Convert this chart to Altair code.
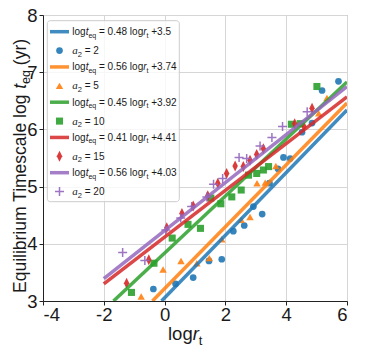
import altair as alt
import pandas as pd

# ---------------- data ----------------
blue_x = [-0.37, 0.36, 0.94, 1.46, 1.88, 2.26, 2.62, 2.92, 3.21, 3.45, 3.73, 3.91, 4.13, 4.52, 4.85, 5.18, 5.72]
blue_y = [3.21, 3.30, 3.41, 3.70, 3.73, 4.22, 4.32, 4.65, 4.52, 5.06, 5.31, 5.51, 5.49, 5.95, 6.11, 6.68, 6.84]
orange_x = [-0.77, -0.05, 0.54, 1.06, 1.47, 1.88, 2.52, 2.81, 3.04, 3.31, 3.66, 5.07, 5.34]
orange_y = [3.08, 3.55, 3.70, 3.66, 3.75, 4.08, 4.42, 4.47, 5.06, 5.07, 5.36, 6.28, 6.55]
green_x = [-1.09, -0.35, 0.25, 0.77, 1.18, 1.52, 1.85, 2.21, 2.52, 2.76, 3.03, 3.25, 3.42, 4.17, 4.46, 5.01]
green_y = [3.15, 3.66, 4.10, 4.34, 4.27, 4.80, 4.70, 4.82, 4.94, 5.20, 5.23, 5.29, 5.35, 6.09, 6.10, 6.75]
red_x = [-1.25, -0.52, 0.07, 0.57, 0.94, 1.42, 1.75, 2.04, 2.32, 2.59, 2.81, 3.03, 3.25, 4.28, 4.58, 4.85]
red_y = [3.31, 3.72, 4.28, 4.53, 4.66, 4.84, 5.06, 5.23, 5.36, 5.35, 5.46, 5.56, 5.66, 6.10, 6.05, 6.37]
purple_x = [-1.38, -0.65, 0.04, 0.53, 0.89, 1.39, 1.61, 1.91, 2.45, 2.70, 3.14, 3.53, 3.88, 4.69]
purple_y = [3.85, 3.71, 4.24, 4.45, 4.65, 4.82, 5.04, 5.14, 5.51, 5.49, 5.71, 5.86, 6.05, 6.31]

# fitted lines as drawn (end points)
line_x0 = [-0.10, -0.40, -1.68, -2.00, -2.00]
line_y0 = [3.00, 3.00, 3.00, 3.30, 3.39]
line_x1 = [6.0, 6.0, 6.0, 6.0, 6.0]
line_y1 = [6.34, 6.46, 6.83, 6.57, 6.75]

fit_slope = ["0.48", "0.56", "0.45", "0.41", "0.56"]
fit_icpt = ["3.5", "3.74", "3.92", "4.41", "4.03"]
a2_values = ["2", "5", "10", "15", "20"]

x_ticks = [-4, -2, 0, 2, 4, 6]
y_ticks = [3, 4, 5, 6, 7, 8]

colors = ["#1f77b4", "#ff7f0e", "#2ca02c", "#d62728", "#9467bd"]
xs_all = [blue_x, orange_x, green_x, red_x, purple_x]
ys_all = [blue_y, orange_y, green_y, red_y, purple_y]
marks = [
    dict(shape="circle", size=45, filled=True),
    dict(shape="triangle-up", size=55, filled=True),
    dict(shape="square", size=50, filled=True),
    dict(shape="M0,-1L0.5,0L0,1L-0.5,0Z", size=120, filled=True),
    dict(shape="M-1,0H1M0,-1V1", size=81, filled=False, strokeWidth=1.5),
]

FONT = "Liberation Sans"
SERIF = "Liberation Serif"
TXT = "#1a1a1a"

ARIAL = {' ': 278, '=': 584, '+': 584, '.': 278, '(': 333, ')': 333, 'E': 667, 'T': 611,
         'a': 556, 'b': 556, 'c': 500, 'e': 556, 'g': 556, 'i': 222, 'l': 222, 'm': 833,
         'o': 556, 'q': 556, 'r': 333, 's': 500, 't': 278, 'u': 556, 'y': 500}


def tw(s, fs):
    return sum(ARIAL.get(c, 556) for c in s) * fs / 1000.0


xs = alt.Scale(domain=[-4, 6], nice=False, zero=False)
ys = alt.Scale(domain=[3, 8], nice=False, zero=False)

one = pd.DataFrame({"k": [0]})
layers = []

# scatter layers (below lines, as in matplotlib)
for i in range(5):
    df = pd.DataFrame({"x": xs_all[i], "y": ys_all[i]})
    m = marks[i]
    kw = dict(shape=m["shape"], size=m["size"], filled=m["filled"], color=colors[i], opacity=0.9)
    if "strokeWidth" in m:
        kw["strokeWidth"] = m["strokeWidth"]
    if i == 0:
        xenc = alt.X("x:Q", scale=xs, axis=alt.Axis(
            values=x_ticks, title=None, grid=True, gridColor="#d6d6d6", gridWidth=1,
            labelFont=FONT, labelFontSize=18.5, labelColor=TXT, tickSize=4, tickColor="#222",
            labelPadding=0, domainColor="#222", labelExpr="replace(datum.label, '\u2212', '-')"))
        yenc = alt.Y("y:Q", scale=ys, axis=alt.Axis(
            values=y_ticks, title=None, grid=True, gridColor="#d6d6d6", gridWidth=1,
            labelFont=FONT, labelFontSize=18.5, labelColor=TXT, tickSize=4, tickColor="#222",
            labelPadding=2, domainColor="#222"))
    else:
        xenc = alt.X("x:Q", scale=xs, axis=None)
        yenc = alt.Y("y:Q", scale=ys, axis=None)
    layers.append(alt.Chart(df).mark_point(**kw).encode(x=xenc, y=yenc))

# fitted lines on top
for i in range(5):
    df = pd.DataFrame({"x": [line_x0[i], line_x1[i]], "y": [line_y0[i], line_y1[i]]})
    layers.append(alt.Chart(df).mark_line(color=colors[i], strokeWidth=3.5, opacity=0.85, clip=True)
                  .encode(x=alt.X("x:Q", scale=xs, axis=None), y=alt.Y("y:Q", scale=ys, axis=None)))

# ---------------- legend (custom, for subscripts) ----------------
layers.append(alt.Chart(one).mark_rect(cornerRadius=3, fill="white", fillOpacity=0.8,
                                       stroke="#cccccc", strokeWidth=1)
              .encode(x=alt.value(4.3), x2=alt.value(136.3), y=alt.value(5.7), y2=alt.value(186.7)))

pieces = {"n": [], "i": [], "s": [], "n270": [], "i270": []}


def add(key, px, py, t, fs):
    # SVG drops leading spaces: move the anchor instead
    n = len(t) - len(t.lstrip(" "))
    shift = n * 278 * fs / 1000.0
    if key.endswith("270"):
        py -= shift
    else:
        px += shift
    pieces[key].append(dict(px=px, py=py, t=t.strip(" "), fs=fs))


LFS = 10
for i in range(5):
    ly = 16.7 + 35.25 * i
    layers.append(alt.Chart(one).mark_rule(color=colors[i], strokeWidth=3.5, opacity=0.85)
                  .encode(x=alt.value(7), x2=alt.value(26), y=alt.value(ly)))
    my = 35.6 + 35.25 * i
    m = marks[i]
    kw = dict(shape=m["shape"], size=m["size"], filled=m["filled"], color=colors[i], opacity=0.9)
    if "strokeWidth" in m:
        kw["strokeWidth"] = m["strokeWidth"]
    layers.append(alt.Chart(one).mark_point(**kw).encode(x=alt.value(16.5), y=alt.value(my)))

    b = ly + 3.5
    x = 29.3
    add("n", x, b, "log", LFS); x += tw("log", LFS)
    add("i", x, b, "t", LFS); x += tw("t", LFS)
    add("n", x, b + 2.5, "eq", 7); x += tw("eq", 7)
    s = " = " + fit_slope[i] + " log"
    add("n", x, b, s, LFS); x += tw(s, LFS)
    add("i", x, b, "r", LFS); x += tw("r", LFS)
    add("n", x, b + 2.5, "t", 7); x += tw("t", 7)
    add("n", x, b, " +" + fit_icpt[i], LFS)

    b = my + 3.5
    x = 29.3
    add("s", x, b, "a", 11); x += 5.5
    add("n", x, b + 2.5, "2", 7.5); x += 556 * 7.5 / 1000
    add("n", x, b, " = " + a2_values[i], LFS)

# ---------------- axis titles ----------------
TFS = 18.5
x = 125.0
xb = 325.0
add("n", x, xb, "log", TFS); x += tw("log", TFS)
add("i", x, xb, "r", TFS); x += tw("r", TFS)
add("n", x, xb + 4.5, "t", 13)

YFS = 17.5
yb = -17.0
y = 278.0
s = "Equilibrium Timescale  log"
add("n270", yb, y, s, YFS); y -= tw(s, YFS)
add("i270", yb, y, "t", YFS); y -= tw("t", YFS)
add("n270", yb + 4.2, y, "eq", 12.5); y -= tw("eq", 12.5)
add("n270", yb, y, " (yr)", YFS)

styles = {
    "n": dict(font=FONT, fontStyle="normal"),
    "i": dict(font=FONT, fontStyle="italic"),
    "s": dict(font=SERIF, fontStyle="italic"),
    "n270": dict(font=FONT, fontStyle="normal", angle=270),
    "i270": dict(font=FONT, fontStyle="italic", angle=270),
}
for key, rows in pieces.items():
    if not rows:
        continue
    df = pd.DataFrame(rows)
    layers.append(alt.Chart(df).mark_text(align="left", baseline="alphabetic", color=TXT, **styles[key])
                  .encode(x=alt.X("px:Q", scale=None, axis=None),
                          y=alt.Y("py:Q", scale=None, axis=None),
                          text="t:N",
                          size=alt.Size("fs:Q", scale=None, legend=None)))

chart = alt.layer(*layers).resolve_scale(x="independent", y="independent").properties(
    width=304, height=286,
    autosize=alt.AutoSizeParams(type="none"),
    padding={"left": 35, "top": 7, "right": 19, "bottom": 50},
).configure_view(stroke="#9a9a9a", strokeWidth=1)

chart.save("out.html", embed_options={"renderer": "svg", "actions": False})
